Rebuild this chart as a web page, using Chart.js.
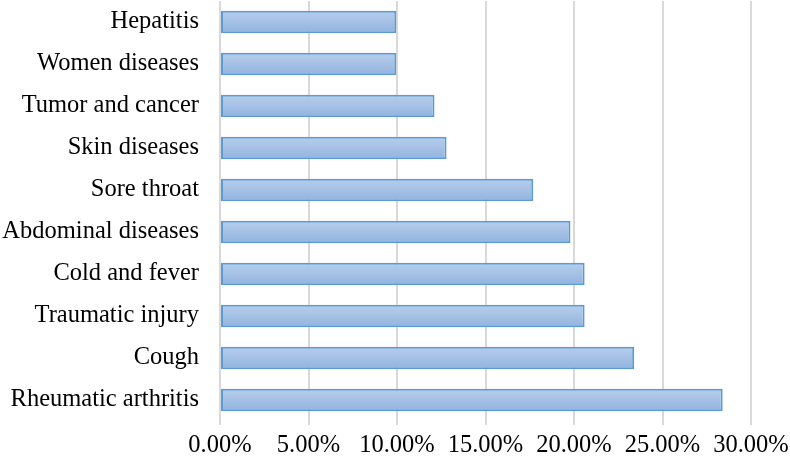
<!DOCTYPE html>
<html>
<head>
<meta charset="utf-8">
<script src="https://cdn.jsdelivr.net/npm/chart.js@4/dist/chart.umd.min.js"></script>
<style>
  html, body { margin: 0; padding: 0; background: #fff; }
  #wrap { width: 790px; height: 459px; }
</style>
</head>
<body>
<div id="wrap"><canvas id="chart"></canvas></div>
<script>
// categories, top to bottom
const diseases = [
  "Hepatitis", "Women diseases", "Tumor and cancer", "Skin diseases", "Sore throat",
  "Abdominal diseases", "Cold and fever", "Traumatic injury", "Cough", "Rheumatic arthritis"
];
// share of mentions, in percent
const shares = [9.96, 9.96, 12.12, 12.8, 17.7, 19.8, 20.6, 20.6, 23.4, 28.4];

const FONT = "'Liberation Serif', 'Times New Roman', serif";
const BAR_PCT = 0.53;

// vertical gradient for each bar, like the office chart fill
function barFill(ctx) {
  const chart = ctx.chart;
  const y = chart.scales.y;
  if (!y || !chart.chartArea) return "#a7c3e6";
  const center = y.getPixelForValue(ctx.dataIndex);
  const half = (chart.chartArea.height / diseases.length) * BAR_PCT / 2;
  const g = chart.ctx.createLinearGradient(0, center - half, 0, center + half);
  g.addColorStop(0, "#b6ceeb");
  g.addColorStop(1, "#93b4df");
  return g;
}

new Chart(document.getElementById("chart"), {
  type: "bar",
  data: {
    labels: diseases,
    datasets: [{
      data: shares,
      backgroundColor: barFill,
      borderColor: "#5b9bd5",
      borderWidth: 2,
      borderSkipped: false,
      categoryPercentage: 1,
      barPercentage: BAR_PCT
    }]
  },
  options: {
    indexAxis: "y",
    responsive: true,
    maintainAspectRatio: false,
    animation: false,
    layout: { padding: { top: 1, right: 39, left: 0, bottom: 0 } },
    plugins: { legend: { display: false }, tooltip: { enabled: false } },
    scales: {
      x: {
        min: 0,
        max: 30,
        ticks: {
          stepSize: 5,
          color: "#000",
          padding: 6,
          maxRotation: 0,
          font: { family: FONT, size: 24.5 },
          callback: v => v.toFixed(2) + "%"
        },
        grid: { color: "#d9d9d9", lineWidth: 2, tickLength: 4 },
        border: { display: false },
        afterFit: s => { s.height = 38; s.paddingLeft = 0; s.paddingRight = 0; }
      },
      y: {
        ticks: {
          color: "#000",
          padding: 21,
          font: { family: FONT, size: 24.5 }
        },
        grid: { display: false, drawTicks: false },
        border: { display: false },
        afterFit: s => { s.width = 220; s.paddingTop = 0; s.paddingBottom = 0; }
      }
    }
  }
});
</script>
</body>
</html>
